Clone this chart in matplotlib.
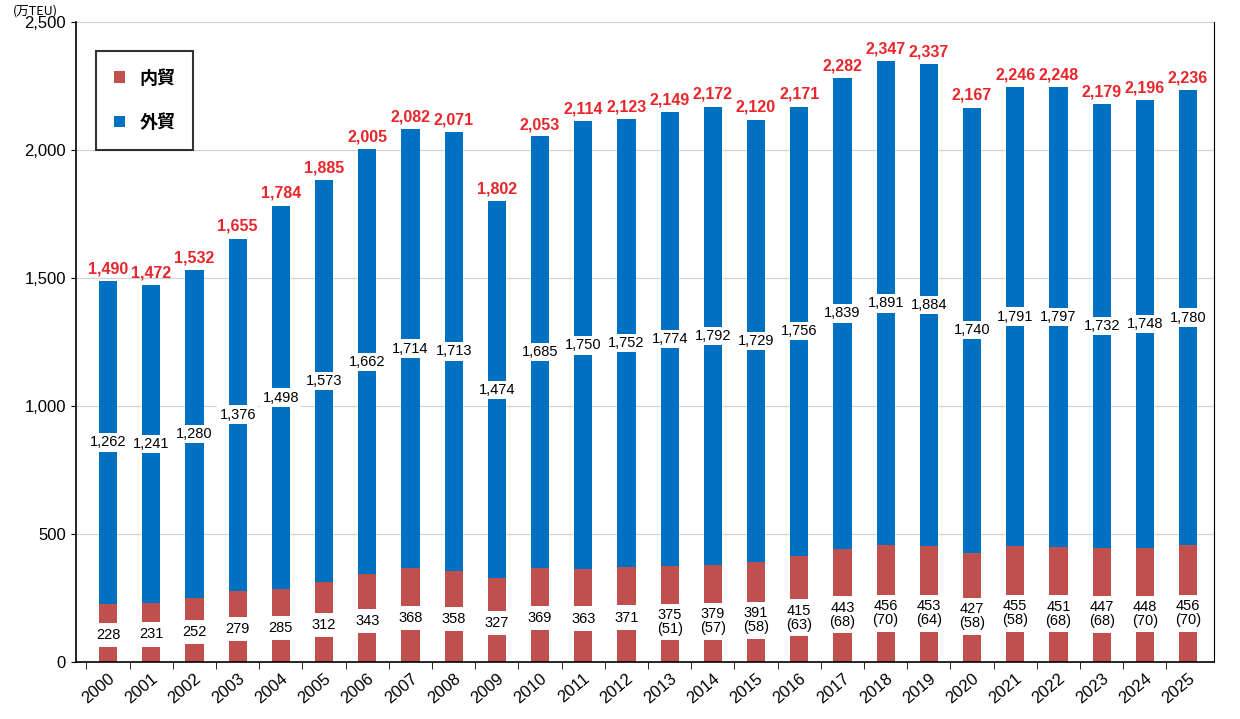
import matplotlib
matplotlib.use("Agg")
import matplotlib.pyplot as plt

plt.rcParams['font.family'] = ['Liberation Sans', 'Noto Sans CJK JP', 'DejaVu Sans']

years = list(range(2000, 2026))
totals = [1490,1472,1532,1655,1784,1885,2005,2082,2071,1802,2053,2114,2123,2149,2172,2120,2171,2282,2347,2337,2167,2246,2248,2179,2196,2236]
domestic = [228,231,252,279,285,312,343,368,358,327,369,363,371,375,379,391,415,443,456,453,427,455,451,447,448,456]
foreign = [1262,1241,1280,1376,1498,1573,1662,1714,1713,1474,1685,1750,1752,1774,1792,1729,1756,1839,1891,1884,1740,1791,1797,1732,1748,1780]
paren = {2013:51,2014:57,2015:58,2016:63,2017:68,2018:70,2019:64,2020:58,2021:58,2022:68,2023:68,2024:70,2025:70}

red = '#C0504D'
blue = '#0070C0'

fig = plt.figure(figsize=(12.4, 7.19), dpi=100)
ax = fig.add_axes([0.061, 0.079, 0.918, 0.890])
x = list(range(len(years)))
ax.bar(x, domestic, width=0.42, color=red, label='内貿', zorder=2)
ax.bar(x, foreign, width=0.42, bottom=domestic, color=blue, label='外貿', zorder=2)

box = dict(boxstyle='square,pad=0.15', fc='white', ec='none')
for i, y in enumerate(years):
    d, f, t = domestic[i], foreign[i], totals[i]
    ax.text(i, t + 18, f'{t:,}', ha='center', va='bottom', color='#E8262B',
            fontsize=11.5, fontweight='bold', zorder=4)
    ax.text(i, d + f / 2, f'{f:,}', ha='center', va='center', fontsize=10.5,
            bbox=box, zorder=3)
    if y in paren:
        ax.text(i, d * 0.42, f'{d}\n({paren[y]})', ha='center', va='center',
                fontsize=10.5, linespacing=1.0, bbox=dict(boxstyle='square,pad=0.3', fc='white', ec='none'), zorder=3)
    else:
        ax.text(i, d * 0.47, f'{d}', ha='center', va='center', fontsize=10.5,
                bbox=dict(boxstyle='square,pad=0.35', fc='white', ec='none'), zorder=3)

ax.set_xlim(-0.75, len(years) - 0.4)
ax.set_ylim(0, 2500)
ax.set_yticks(range(0, 2501, 500))
ax.set_yticklabels([f'{v:,}' for v in range(0, 2501, 500)], fontsize=12)
ax.set_xticks(x)
ax.set_xticklabels([str(y) for y in years], rotation=40, ha='right', rotation_mode='anchor', fontsize=12)
ax.set_xticks([i + 0.5 for i in x[:-1]] + [-0.5], minor=True)
ax.tick_params(axis='x', which='major', length=0, pad=6)
ax.tick_params(axis='x', which='minor', length=5, direction='out')
ax.yaxis.grid(True, color='#d0d0d0', linewidth=0.8, zorder=0)
ax.set_axisbelow(True)
for s in ['top']:
    ax.spines[s].set_visible(False)
ax.spines['left'].set_linewidth(1.2)
ax.spines['bottom'].set_linewidth(1.2)

leg = ax.legend(loc='upper left', bbox_to_anchor=(0.01, 0.97), fontsize=13, frameon=True,
                fancybox=False, edgecolor='black', handlelength=0.6, handleheight=0.6,
                labelspacing=1.4, borderpad=1.0, prop={'weight': 'bold', 'size': 13,
                'family': ['Noto Sans CJK JP']})
leg.get_frame().set_linewidth(1.5)

fig.text(0.01, 0.985, '(万TEU)', fontsize=9, va='center', family=['Noto Sans CJK JP'])
fig.savefig('out.png', dpi=100)
